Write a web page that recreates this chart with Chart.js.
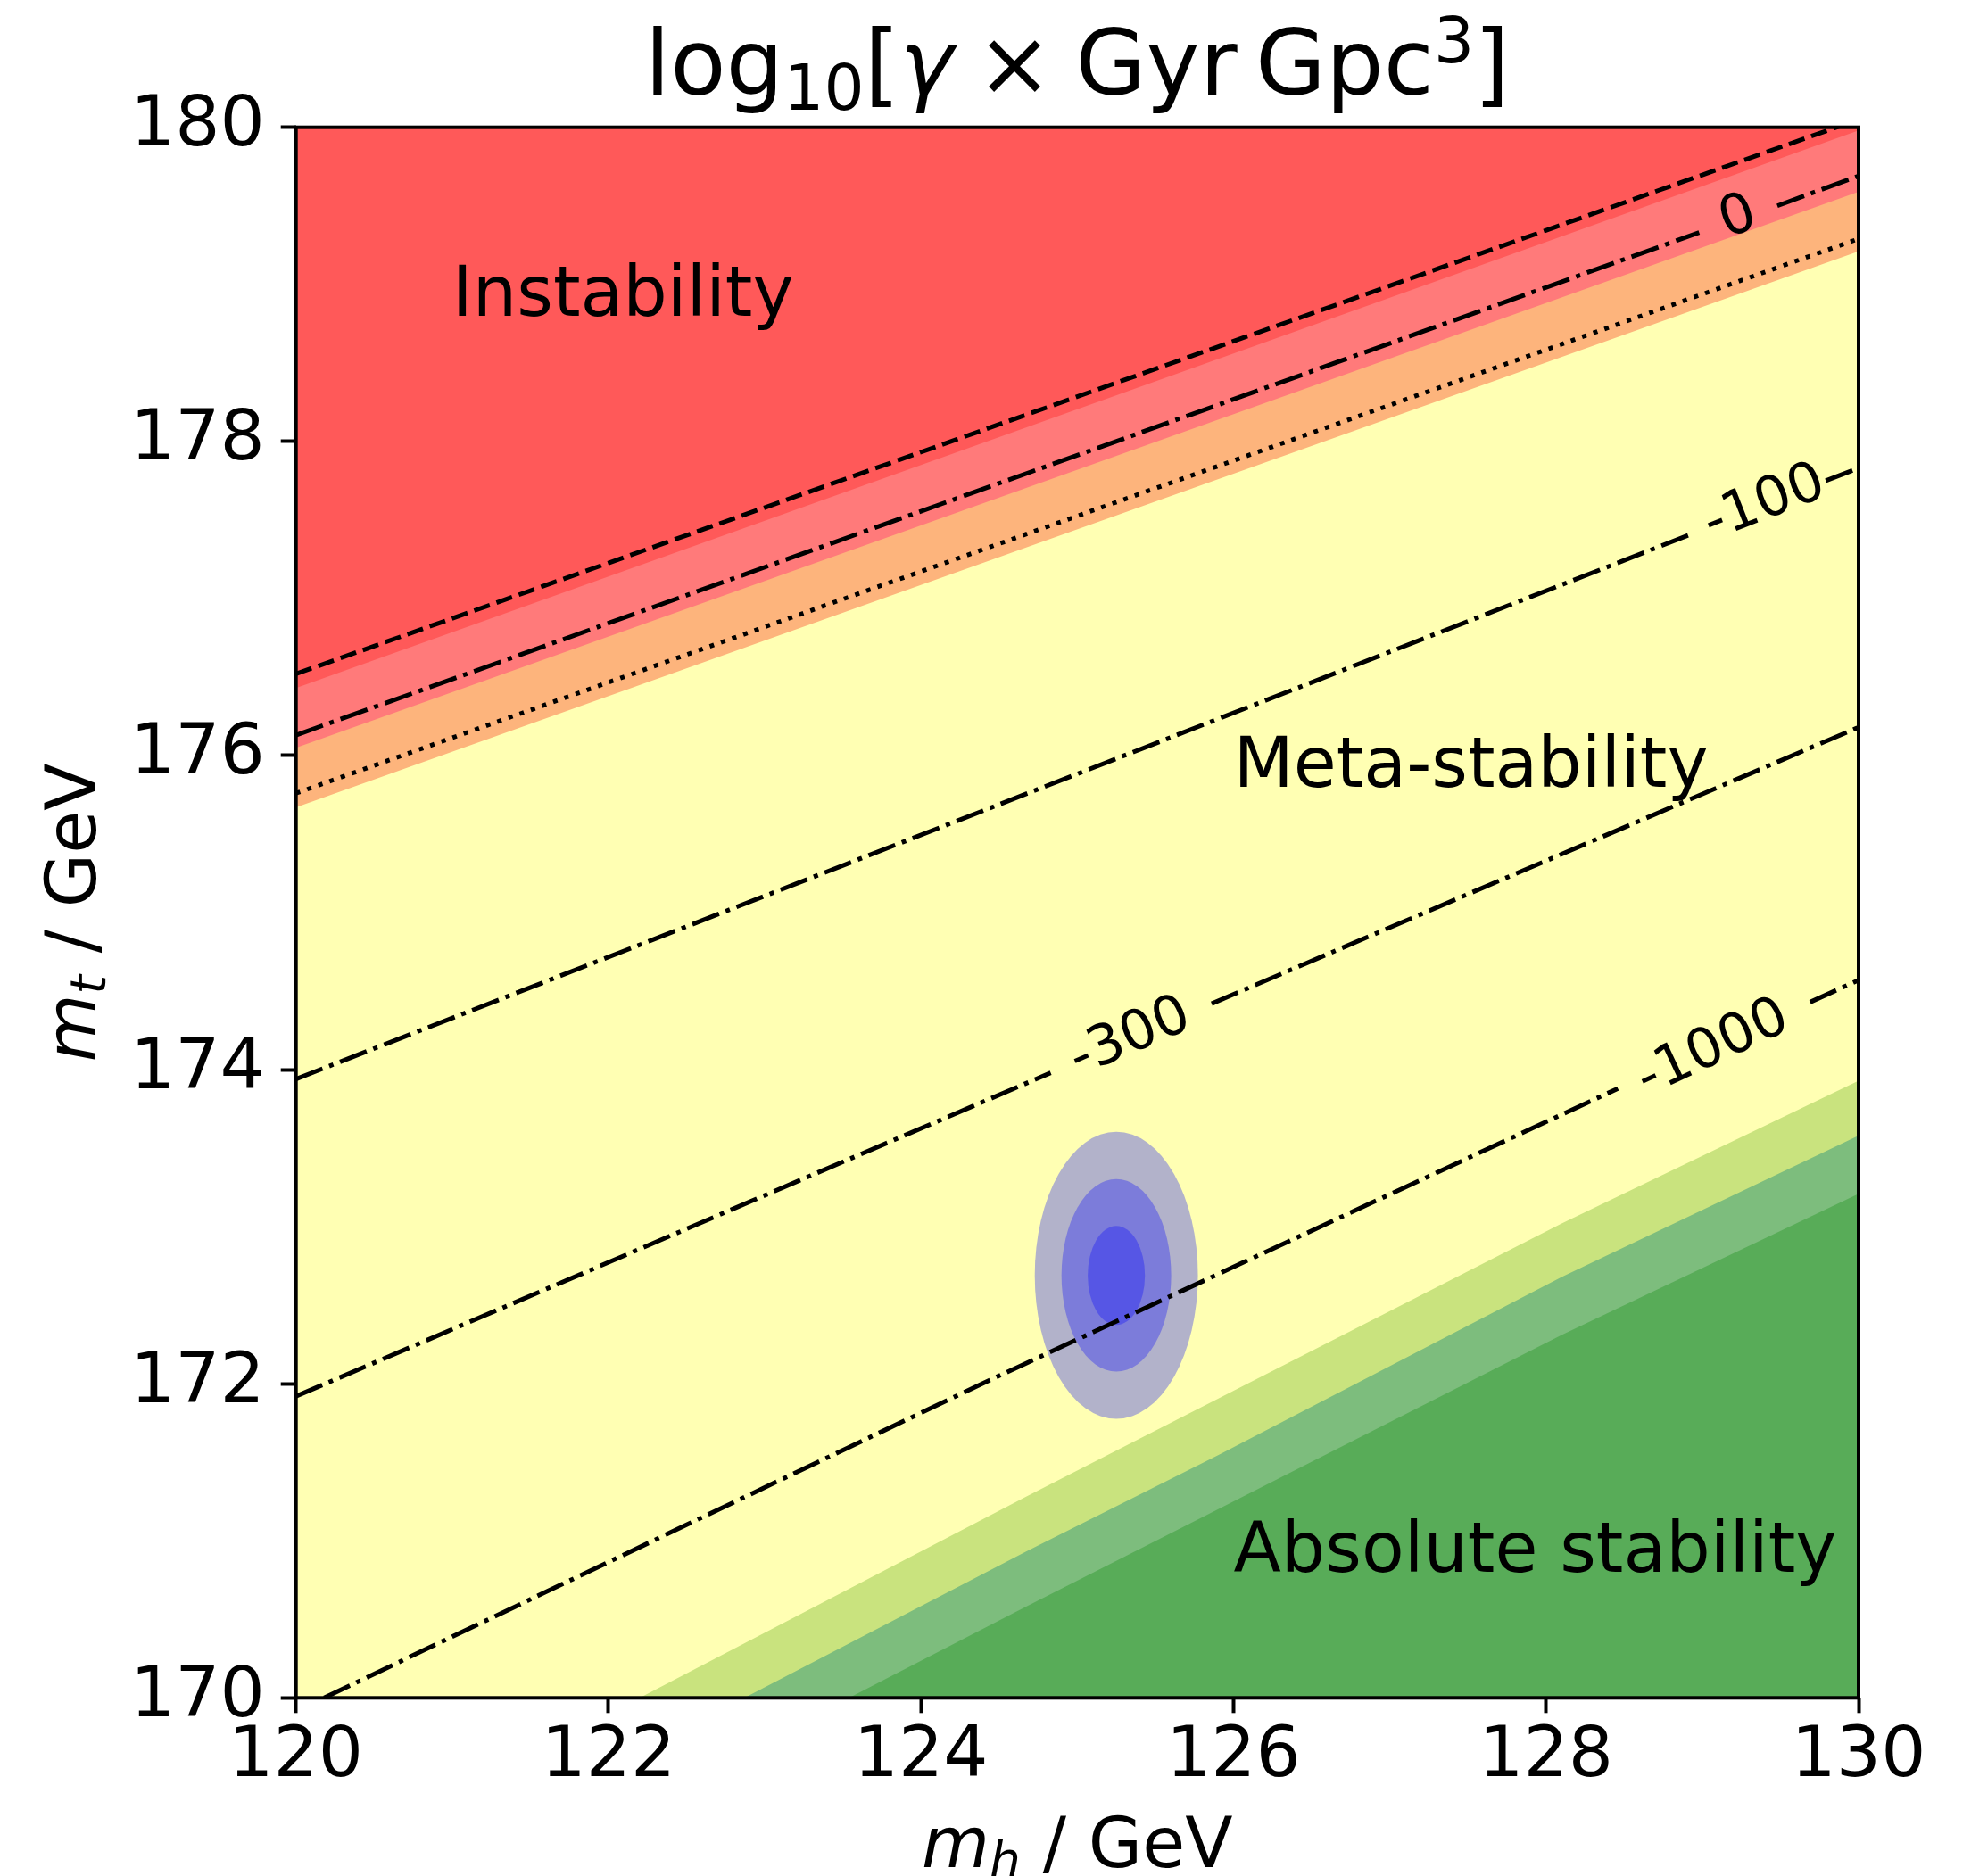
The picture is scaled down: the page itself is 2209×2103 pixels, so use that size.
<!DOCTYPE html>
<html>
<head>
<meta charset="utf-8">
<script src="https://cdn.jsdelivr.net/npm/chart.js@4/dist/chart.umd.min.js"></script>
<style>
  html, body { margin: 0; padding: 0; background: #fff; }
  canvas { display: block; }
</style>
</head>
<body>
<canvas id="vacuum" width="2209" height="2103"></canvas>
<script>
// ===== axes =====
const mhLimits = [120, 130];
const mtLimits = [170, 180];
const tickStep = 2;

// ===== filled regions: boundary mt read at each mh =====
const instabilityMh = [120, 130];
const instabilityMt = [176.43, 179.98];
const pinkMh = [120, 130];
const pinkMt = [176.05, 179.59];
const orangeMh = [120, 130];
const orangeMt = [175.67, 179.21];
const lightGreenMh = [122.20, 124.67, 125.22, 128.10, 130];
const lightGreenMt = [170, 171.28, 171.56, 173.02, 173.93];
const midGreenMh = [122.87, 124.67, 125.91, 128.10, 130];
const midGreenMt = [170, 170.93, 171.55, 172.68, 173.58];
const darkGreenMh = [123.54, 124.67, 128.10, 130];
const darkGreenMt = [170, 170.58, 172.31, 173.21];

// ===== black lines (null = gap for the contour label) =====
const dashedMh = [120, 130];
const dashedMt = [176.52, 180.05];
const dottedMh = [120, 130];
const dottedMt = [175.76, 179.29];
const c0Mh = [120, 128.98, null, 129.48, 130];
const c0Mt = [176.13, 179.33, null, 179.50, 179.69];
const c100Mh = [120, 128.93, null, 129.79, 130];
const c100Mt = [173.94, 177.41, null, 177.75, 177.83];
const c300Mh = [120, 124.83, null, 125.86, 130];
const c300Mt = [171.92, 173.98, null, 174.42, 176.18];
const c1000Mh = [120.18, 124.39, 128.46, null, 129.69, 130];
const c1000Mt = [170, 172.0, 173.88, null, 174.43, 174.57];

// contour labels
const contourText = ["0", "-100", "-300", "-1000"];
const contourMh = [129.23, 129.40, 125.34, 129.07];
const contourMt = [179.42, 177.60, 174.20, 174.13];

// measured point (1, 2, 3 sigma ellipses)
const fitCenter = [125.25, 172.69];
const ellipseHalfMh = [0.522, 0.351, 0.183];
const ellipseHalfMt = [0.914, 0.613, 0.315];

// region names
const regionText = ["Instability", "Meta-stability", "Absolute stability"];
const regionMh = [121.0, 126.0, 126.0];
const regionMt = [178.8, 175.8, 170.8];

const FONT = '"DejaVu Sans"';
const pts = (xs, ys) => xs.map((x, i) => ({ x: x, y: ys[i] }));
const lineSet = (xs, ys, dash) => ({
  data: pts(xs, ys), borderColor: "#000", borderWidth: 5, borderDash: dash,
  borderCapStyle: "butt", pointRadius: 0, fill: false, tension: 0, clip: 0
});
const fillSet = (xs, ys, color, target) => ({
  data: pts(xs, ys), borderColor: "rgba(0,0,0,0)", borderWidth: 0, backgroundColor: color,
  pointRadius: 0, fill: target, tension: 0, clip: 0
});

const DASHDOT = [32, 8, 5, 8];

function fontOf(size, italic) { return (italic ? "italic " : "") + size + "px " + FONT; }
function drawRuns(ctx, runs, x, y) {
  let total = 0;
  runs.forEach(r => { ctx.font = fontOf(r.size, r.italic); r.w = ctx.measureText(r.text).width; total += r.w; });
  let cx = x - total / 2;
  ctx.textAlign = "left"; ctx.textBaseline = "alphabetic";
  runs.forEach(r => { ctx.font = fontOf(r.size, r.italic); ctx.fillText(r.text, cx, y + (r.dy || 0)); cx += r.w; });
}

const decor = {
  id: "decor",
  beforeDatasetsDraw(chart) {
    const { ctx, chartArea: a } = chart;
    ctx.save();
    ctx.fillStyle = "#ffffb3";
    ctx.fillRect(a.left, a.top, a.right - a.left, a.bottom - a.top);
    ctx.restore();
  },
  afterDatasetDraw(chart, args) {
    if (args.index !== 6) return;
    const { ctx, scales: { x, y } } = chart;
    const cx = x.getPixelForValue(fitCenter[0]), cy = y.getPixelForValue(fitCenter[1]);
    ctx.save();
    ctx.fillStyle = "rgba(0,0,255,0.3)";
    ellipseHalfMh.forEach((hx, i) => {
      const rx = x.getPixelForValue(fitCenter[0] + hx) - cx;
      const ry = cy - y.getPixelForValue(fitCenter[1] + ellipseHalfMt[i]);
      ctx.beginPath(); ctx.ellipse(cx, cy, rx, ry, 0, 0, Math.PI * 2); ctx.fill();
    });
    ctx.restore();
  },
  afterDraw(chart) {
    const { ctx, chartArea: a, scales: { x, y } } = chart;
    ctx.save();
    ctx.fillStyle = "#000";
    // contour labels along their lines
    const lines = [[c0Mh, c0Mt], [c100Mh, c100Mt], [c300Mh, c300Mt], [c1000Mh, c1000Mt]];
    contourText.forEach((t, i) => {
      const [xs, ys] = lines[i];
      const n = xs.length - 1;
      const ang = Math.atan2(y.getPixelForValue(ys[n]) - y.getPixelForValue(ys[0]),
                             x.getPixelForValue(xs[n]) - x.getPixelForValue(xs[0]));
      ctx.save();
      ctx.translate(x.getPixelForValue(contourMh[i]), y.getPixelForValue(contourMt[i]));
      ctx.rotate(ang);
      ctx.font = fontOf(62); ctx.textAlign = "center"; ctx.textBaseline = "middle";
      ctx.fillText(t, 0, 0);
      ctx.restore();
    });
    // region names
    ctx.font = fontOf(78); ctx.textAlign = "left"; ctx.textBaseline = "alphabetic";
    regionText.forEach((t, i) => ctx.fillText(t, x.getPixelForValue(regionMh[i]), y.getPixelForValue(regionMt[i])));
    // frame
    ctx.strokeStyle = "#000"; ctx.lineWidth = 4;
    ctx.strokeRect(a.left, a.top, a.right - a.left, a.bottom - a.top);
    // title
    const midX = (a.left + a.right) / 2;
    drawRuns(ctx, [
      { text: "log", size: 102 }, { text: "10", size: 71, dy: 17 }, { text: "[", size: 102 },
      { text: "\u03b3", size: 102, italic: true }, { text: "\u2005\u00d7\u2005", size: 102 },
      { text: "Gyr", size: 102 }, { text: "\u2009", size: 102 }, { text: "Gpc", size: 102 },
      { text: "3", size: 71, dy: -36 }, { text: "]", size: 102 }
    ], midX, 106);
    // axis titles
    drawRuns(ctx, [
      { text: "m", size: 78, italic: true }, { text: "h", size: 55, italic: true, dy: 11 },
      { text: " / GeV", size: 78 }
    ], midX, 2093);
    ctx.translate(107, (a.top + a.bottom) / 2);
    ctx.rotate(-Math.PI / 2);
    drawRuns(ctx, [
      { text: "m", size: 78, italic: true }, { text: "t", size: 55, italic: true, dy: 11 },
      { text: " / GeV", size: 78 }
    ], 0, 0);
    ctx.restore();
  }
};

Chart.defaults.font.family = FONT;
Chart.defaults.color = "#000";

new Chart(document.getElementById("vacuum"), {
  type: "line",
  data: {
    datasets: [
      lineSet(c0Mh, c0Mt, DASHDOT),
      lineSet(dashedMh, dashedMt, [18.5, 8]),
      lineSet(dottedMh, dottedMt, [5, 8.3]),
      lineSet(c100Mh, c100Mt, DASHDOT),
      lineSet(c300Mh, c300Mt, DASHDOT),
      lineSet(c1000Mh, c1000Mt, DASHDOT),
      fillSet(instabilityMh, instabilityMt, "#ff5959", "end"),
      fillSet(pinkMh, pinkMt, "#ff7a7a", "end"),
      fillSet(orangeMh, orangeMt, "#fdb47c", "end"),
      fillSet(darkGreenMh, darkGreenMt, "#58ac58", "start"),
      fillSet(midGreenMh, midGreenMt, "#7dbd7d", "start"),
      fillSet(lightGreenMh, lightGreenMt, "#c9e37e", "start")
    ]
  },
  options: {
    responsive: false,
    devicePixelRatio: 1,
    animation: false,
    events: [],
    layout: { padding: { left: 0, top: 142.7, right: 126, bottom: 0 } },
    plugins: { legend: { display: false }, tooltip: { enabled: false } },
    scales: {
      x: {
        type: "linear", min: mhLimits[0], max: mhLimits[1],
        afterFit: s => { s.height = 199.7; },
        border: { display: false },
        grid: { drawOnChartArea: false, drawTicks: true, tickLength: 17, tickWidth: 4, tickColor: "#000" },
        ticks: { stepSize: tickStep, autoSkip: false, maxRotation: 0, padding: 3, font: { size: 79 } }
      },
      y: {
        type: "linear", min: mtLimits[0], max: mtLimits[1],
        afterFit: s => { s.width = 331.7; },
        border: { display: false },
        grid: { drawOnChartArea: false, drawTicks: true, tickLength: 17, tickWidth: 4, tickColor: "#000" },
        ticks: { stepSize: tickStep, autoSkip: false, padding: 18, font: { size: 79 } }
      }
    }
  },
  plugins: [decor]
});
</script>
</body>
</html>
